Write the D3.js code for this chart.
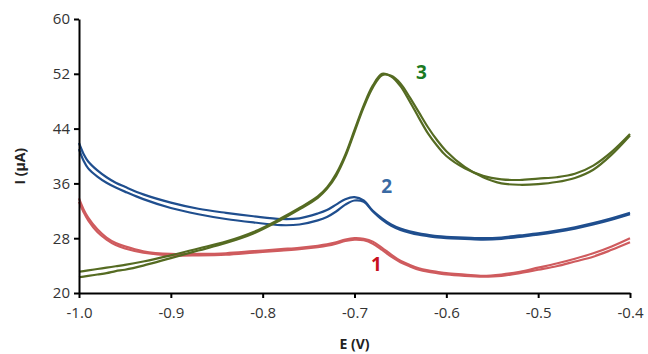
<!DOCTYPE html>
<html>
<head>
<meta charset="utf-8">
<script src="https://cdn.jsdelivr.net/npm/d3@7"></script>
<style>
  body { margin: 0; background: #fff; }
  svg { display: block; font-family: "Open Sans", "Liberation Sans", sans-serif; }
</style>
</head>
<body>
<svg id="chart" width="648" height="354"></svg>
<script>
// potential grid (V), shared by all scans
const E = [-1.0, -0.995, -0.99, -0.98, -0.97, -0.96, -0.95, -0.93, -0.9, -0.87,
	-0.84, -0.81, -0.78, -0.76, -0.74, -0.73, -0.72, -0.71, -0.70, -0.69,
	-0.68, -0.67, -0.66, -0.65, -0.64, -0.63, -0.62, -0.61, -0.60, -0.58,
	-0.56, -0.54, -0.52, -0.50, -0.48, -0.46, -0.44, -0.42, -0.40];

// curve 1 (two scans)
const red1 = [33.8, 32.2, 31.0, 29.3, 28.1, 27.3, 26.8, 26.1, 25.7, 25.7,
	25.8, 26.1, 26.4, 26.6, 26.9, 27.1, 27.4, 27.8, 28.0, 27.9,
	27.5, 26.6, 25.6, 24.7, 24.1, 23.6, 23.3, 23.1, 22.9, 22.7,
	22.5, 22.7, 23.1, 23.7, 24.3, 25.0, 25.8, 26.8, 28.0];
const red2 = [33.3, 31.8, 30.6, 28.9, 27.8, 27.0, 26.5, 25.9, 25.5, 25.5,
	25.6, 25.9, 26.2, 26.4, 26.7, 26.9, 27.2, 27.6, 27.8, 27.7,
	27.2, 26.3, 25.3, 24.5, 23.9, 23.4, 23.1, 22.9, 22.7, 22.5,
	22.4, 22.5, 22.9, 23.4, 23.9, 24.6, 25.3, 26.3, 27.4];

// curve 2
const blue1 = [41.9, 40.3, 39.2, 37.9, 36.9, 36.1, 35.5, 34.4, 33.2, 32.3,
	31.7, 31.2, 30.8, 30.9, 31.6, 32.1, 32.9, 33.7, 34.0, 33.5,
	32.0, 30.9, 30.0, 29.4, 29.0, 28.7, 28.5, 28.3, 28.2, 28.1,
	28.0, 28.1, 28.4, 28.7, 29.1, 29.6, 30.2, 30.9, 31.7];
const blue2 = [41.0, 39.3, 38.2, 37.0, 36.1, 35.4, 34.8, 33.7, 32.4, 31.5,
	30.8, 30.3, 29.9, 30.0, 30.6, 31.1, 31.9, 32.9, 33.5, 33.3,
	31.9, 30.7, 29.8, 29.2, 28.8, 28.5, 28.3, 28.1, 28.0, 27.9,
	27.8, 27.9, 28.2, 28.5, 28.9, 29.4, 30.0, 30.7, 31.5];

// curve 3
const green1 = [23.1, 23.2, 23.3, 23.5, 23.7, 23.9, 24.1, 24.6, 25.5, 26.5,
	27.5, 28.9, 30.9, 32.4, 34.1, 35.4, 37.4, 40.2, 43.8, 47.4,
	50.3, 52.0, 51.6, 50.2, 48.0, 45.6, 43.3, 41.5, 40.0, 38.2,
	37.1, 36.6, 36.5, 36.7, 36.9, 37.4, 38.6, 40.6, 43.2];
const green2 = [22.3, 22.4, 22.5, 22.7, 22.9, 23.2, 23.4, 24.0, 25.1, 26.2,
	27.3, 28.7, 30.7, 32.2, 33.9, 35.2, 37.1, 39.9, 43.5, 47.1,
	50.0, 51.8, 51.7, 50.6, 48.6, 46.4, 44.2, 42.3, 40.7, 38.4,
	36.9, 36.0, 35.8, 35.9, 36.2, 36.8, 38.0, 40.2, 43.0];

const xTicks = [-1.0, -0.9, -0.8, -0.7, -0.6, -0.5, -0.4];
const yTicks = [20, 28, 36, 44, 52, 60];

const curves = [
	{ name: '1', scans: [red1, red2], color: '#cf5b5e', labelColor: '#c8101e', at: [-0.676, 23.2] },
	{ name: '2', scans: [blue1, blue2], color: '#1f4e8e', labelColor: '#3a6aa3', at: [-0.665, 34.6] },
	{ name: '3', scans: [green1, green2], color: '#556b22', labelColor: '#1b7a23', at: [-0.627, 51.2] },
];

const svg = d3.select('#chart');
const margin = { left: 79, right: 18, top: 19, bottom: 61 };
const width = 648 - margin.left - margin.right;
const height = 354 - margin.top - margin.bottom;

const x = d3.scaleLinear().domain([-1.0, -0.4]).range([0, width]);
const y = d3.scaleLinear().domain([20, 60]).range([height, 0]);

const g = svg.append('g')
	.attr('transform', `translate(${margin.left},${margin.top})`);

const line = d3.line()
	.x((d, i) => x(E[i]))
	.y(d => y(d))
	.curve(d3.curveCatmullRom.alpha(0.5));

curves.forEach(c => {
	c.scans.forEach(s => {
		g.append('path')
			.datum(s)
			.attr('fill', 'none')
			.attr('stroke', c.color)
			.attr('stroke-width', 2.2)
			.attr('d', line);
	});
	g.append('text')
		.attr('x', x(c.at[0]))
		.attr('y', y(c.at[1]))
		.attr('text-anchor', 'middle')
		.attr('font-size', 19)
		.attr('font-weight', 'bold')
		.attr('fill', c.labelColor)
		.text(c.name);
});

// axes; plain hyphen for negative numbers, as in the original
const fmt = d => d3.format('.1f')(d).replace('\u2212', '-');

const xAxis = g.append('g')
	.attr('transform', `translate(0,${height})`)
	.call(d3.axisBottom(x).tickValues(xTicks).tickFormat(fmt).tickSize(5).tickSizeOuter(0));
const yAxis = g.append('g')
	.call(d3.axisLeft(y).tickValues(yTicks).tickSize(5).tickSizeOuter(0));

[xAxis, yAxis].forEach(a => {
	a.select('.domain').attr('stroke', '#000').attr('stroke-width', 2);
	a.selectAll('.tick line').attr('stroke', '#000').attr('stroke-width', 2);
	a.selectAll('.tick text')
		.attr('fill', '#333')
		.attr('font-size', 15)
		.attr('font-family', '"Open Sans", "Liberation Sans", sans-serif');
});
xAxis.selectAll('.tick text').attr('dy', '1.1em');
yAxis.selectAll('.tick text').attr('x', -9);

svg.append('text')
	.attr('x', margin.left + x(-0.7))
	.attr('y', 349)
	.attr('text-anchor', 'middle')
	.attr('font-size', 14)
	.attr('font-weight', 'bold')
	.attr('fill', '#222')
	.text('E (V)');

svg.append('text')
	.attr('transform', `translate(25,${margin.top + y(38.5)}) rotate(-90)`)
	.attr('text-anchor', 'middle')
	.attr('font-size', 14)
	.attr('font-weight', 'bold')
	.attr('fill', '#222')
	.text('I (μA)');
</script>
</body>
</html>
